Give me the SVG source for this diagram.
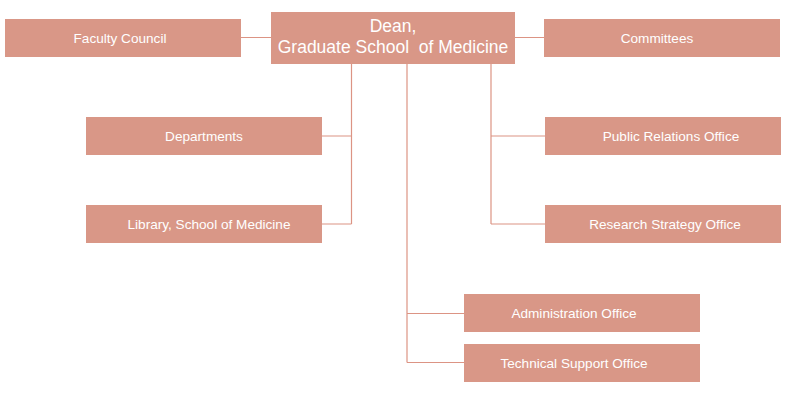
<svg xmlns="http://www.w3.org/2000/svg" width="785" height="404" viewBox="0 0 785 404">
<style>
.box{fill:#d99787}
.t{font-family:"Liberation Sans",Arial,sans-serif;font-size:13.6px;fill:#ffffff;text-anchor:middle}
.d{font-size:17.5px}
.c{fill:none;stroke:#dc9484;stroke-width:1.2}
</style>
<rect width="785" height="404" fill="#ffffff"/>
<g id="connectors">
<path class="c" d="M241 37.5H271M515 37.5H544"/>
<path class="c" d="M351.5 64V224M322 136H351.5M322 224H351.5"/>
<path class="c" d="M491 64V224M491 136H545M491 224H545"/>
<path class="c" d="M407 64V362.5M407 313.5H464M407 362.5H464"/>
</g>
<g id="dean">
<rect class="box" x="271" y="12" width="244" height="52"/>
<text class="t d" x="393" y="32">Dean,</text>
<text class="t d" x="393" y="53" xml:space="preserve">Graduate School  of Medicine</text>
</g>
<g id="faculty-council">
<rect class="box" x="5" y="19" width="236" height="38"/>
<text class="t" x="120" y="43">Faculty Council</text>
</g>
<g id="committees">
<rect class="box" x="544" y="19" width="236" height="38"/>
<text class="t" x="657" y="43">Committees</text>
</g>
<g id="departments">
<rect class="box" x="86" y="117" width="236" height="38"/>
<text class="t" x="204" y="141">Departments</text>
</g>
<g id="library">
<rect class="box" x="86" y="205" width="236" height="38"/>
<text class="t" x="209" y="229">Library, School of Medicine</text>
</g>
<g id="public-relations">
<rect class="box" x="545" y="117" width="236" height="38"/>
<text class="t" x="671" y="141">Public Relations Office</text>
</g>
<g id="research-strategy">
<rect class="box" x="545" y="205" width="236" height="38"/>
<text class="t" x="665" y="229">Research Strategy Office</text>
</g>
<g id="administration">
<rect class="box" x="464" y="294" width="236" height="38"/>
<text class="t" x="574" y="318">Administration Office</text>
</g>
<g id="technical-support">
<rect class="box" x="464" y="344" width="236" height="38"/>
<text class="t" x="574" y="368">Technical Support Office</text>
</g>
</svg>
